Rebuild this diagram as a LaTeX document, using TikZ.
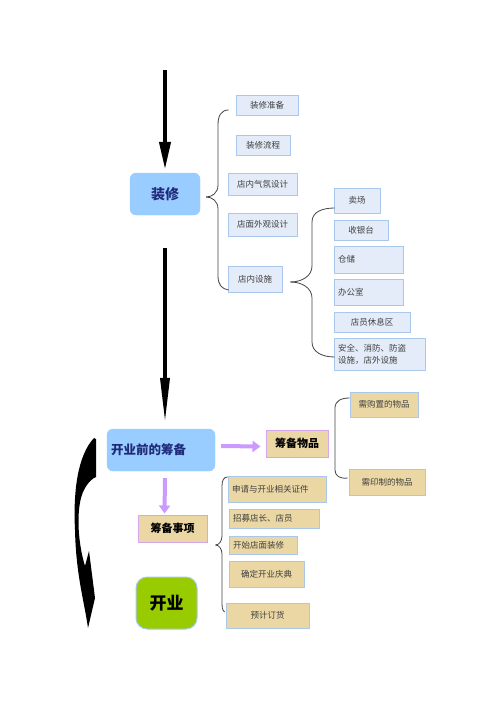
\documentclass[tikz,border=0pt]{standalone}
\usepackage{fontspec}
\setmainfont{Noto Sans CJK SC}
\usetikzlibrary{arrows.meta,calc}
\definecolor{titlefill}{HTML}{99CCFF}
\definecolor{titletext}{HTML}{1F2A7A}
\definecolor{boxfill}{HTML}{E3ECF8}
\definecolor{boxline}{HTML}{A9C8EC}
\definecolor{tanfill}{HTML}{EAD7A4}
\definecolor{lilac}{HTML}{D6A6EA}
\definecolor{purplearrow}{HTML}{CC99FF}
\definecolor{greenfill}{HTML}{99CC00}
\definecolor{bracecol}{HTML}{444444}
\tikzset{
  titlebox/.style={draw=titlefill, fill=titlefill, rounded corners=6pt, text=titletext,
    font=\fontsize{14}{16}\selectfont\bfseries, inner sep=0pt},
  bluebox/.style={draw=boxline, line width=0.8pt, fill=boxfill, text=black!75,
    font=\fontsize{8.5}{11}\selectfont, inner sep=0pt},
  tanbox/.style={draw=boxline, line width=0.8pt, fill=tanfill, text=black!75,
    font=\fontsize{8.5}{11}\selectfont, inner sep=0pt},
  lilacbox/.style={draw=lilac, line width=1pt, fill=tanfill, text=black,
    font=\fontsize{11}{13}\selectfont\bfseries, inner sep=0pt},
  bracepath/.style={draw=bracecol, line width=0.8pt},
  blackarrow/.style={line width=4pt, black},
  purparrow/.style={line width=4pt, purplearrow, -{Triangle[length=8pt,width=11pt]}}
}
\begin{document}
\begin{tikzpicture}[x=1pt,y=-1pt]
\useasboundingbox[fill=white] (0,0) rectangle (500,707);

% ---- title boxes
\node[titlebox, minimum width=70, minimum height=42] (zx) at (165,194) {装修};
\node[titlebox, minimum width=108, minimum height=42, font=\fontsize{12.5}{15}\selectfont\bfseries,
      text width=100, align=left] (kyq) at (161,450) {开业前的筹备};
\node[draw=boxline, line width=1pt, fill=greenfill, rounded corners=11pt, minimum width=61,
      minimum height=52, font=\fontsize{17}{19}\selectfont\bfseries, inner sep=0pt] (ky) at (166.5,603) {开业};

% ---- 装修 sub boxes
\node[bluebox, minimum width=62, minimum height=20] (b1) at (267,105) {装修准备};
\node[bluebox, minimum width=54, minimum height=20] (b2) at (263,145) {装修流程};
\node[bluebox, minimum width=69, minimum height=22] (b3) at (262.5,184) {店内气氛设计};
\node[bluebox, minimum width=69, minimum height=23] (b4) at (262.5,224.5) {店面外观设计};
\node[bluebox, minimum width=54, minimum height=26] (b5) at (255,279) {店内设施};

% ---- 店内设施 sub boxes
\node[bluebox, minimum width=46, minimum height=25] (c1) at (357,200.5) {卖场};
\node[bluebox, minimum width=54, minimum height=20] (c2) at (361,230) {收银台};
\node[bluebox, minimum height=27, text width=61, align=left, inner xsep=4pt] (c3) at (368.5,259.5) {仓储};
\node[bluebox, minimum height=26, text width=61, align=left, inner xsep=4pt] (c4) at (368.5,292) {办公室};
\node[bluebox, minimum width=76, minimum height=20] (c5) at (372,322) {店员休息区};
\node[bluebox, minimum height=32, text width=83, align=left, inner xsep=4pt,
      font=\fontsize{8.5}{12}\selectfont] (c6) at (379.5,354) {安全、消防、防盗\\设施，店外设施};

% ---- 筹备物品
\node[lilacbox, minimum width=62, minimum height=27] (wp) at (297,443.5) {筹备物品};
\node[tanbox, minimum width=68, minimum height=25] (w1) at (384,404.5) {需购置的物品};
\node[tanbox, minimum width=76, minimum height=26] (w2) at (387,482) {需印制的物品};

% ---- 筹备事项
\node[lilacbox, minimum width=69, minimum height=27] (sx) at (172.5,528.5) {筹备事项};
\node[tanbox, minimum height=26, text width=90, align=left, inner xsep=4pt] (s1) at (277,489) {申请与开业相关证件};
\node[tanbox, minimum height=19, text width=82, align=left, inner xsep=4pt] (s2) at (274,518.5) {招募店长、店员};
\node[tanbox, minimum height=18, text width=60, align=left, inner xsep=4pt] (s3) at (263,545) {开始店面装修};
\node[tanbox, minimum width=75, minimum height=26] (s4) at (266.5,574) {确定开业庆典};
\node[tanbox, minimum width=83, minimum height=25] (s5) at (267.5,615.5) {预计订货};

% ---- black arrows
\coordinate (a1s) at (165,70);
\draw[blackarrow, -{Triangle[length=28pt,width=11pt]}] (a1s) -- ($(zx.north)+(0,-3)$);
\coordinate (a2s) at (165,248);
\draw[line width=3.5pt, black, -{Triangle[length=45pt,width=9pt]}] (a2s) -- ($(kyq.north)+(4,-6)$);

% ---- purple arrows
\draw[purparrow] ($(kyq.east)+(6,-4)$) -- ($(wp.west)+(-5,3)$);
\draw[purparrow] ($(kyq.south)+(4,7)$) -- ($(sx.north)+(-8,-1)$);

% ---- braces
\draw[bracepath] ($(zx.east)+(6,3)$) .. controls (212,197) and (218,193) .. (218,185) -- (218,125)
   .. controls (218,116) and (221,110) .. ($(b1.west)+(-7,5)$);
\draw[bracepath] ($(zx.east)+(6,3)$) .. controls (212,197) and (218,201) .. (218,209) -- (218,276)
   .. controls (218,285) and (222,289) .. ($(b5.west)+(1,11)$);

\draw[bracepath] ($(b5.east)+(8,3)$) .. controls (302,282) and (312,276) .. (312,266) -- (312,222)
   .. controls (312,212) and (322,208) .. ($(c1.west)+(1,7.5)$);
\draw[bracepath] ($(b5.east)+(8,3)$) .. controls (302,282) and (312,288) .. (312,298) -- (312,342)
   .. controls (312,352) and (322,357) .. ($(c6.west)+(1,3)$);

\draw[bracepath] ($(w1.west)+(0,-6.5)$) .. controls (341,398) and (335,401) .. (335,408) -- (335,470)
   .. controls (335,476) and (340,479) .. ($(w2.west)+(-1,-4)$);

\draw[bracepath] ($(sx.east)+(8,16.5)$) .. controls (219,545) and (222,541) .. (222,536) -- (222,486)
   .. controls (222,480) and (224,477) .. ($(s1.west)+(0,-12)$);
\draw[bracepath] ($(sx.east)+(8,16.5)$) .. controls (219,545) and (222,549) .. (222,554) -- (222,604)
   .. controls (222,610) and (224,612) .. ($(s5.west)+(-1,-3.5)$);

% ---- big curved arrow on the left
\fill[black] (94,438) .. controls (78,455) and (73,490) .. (75,530)
   .. controls (76,575) and (84,600) .. (88,628)
   -- (95,598) -- (89,551) -- (85,566)
   .. controls (77,540) and (76,505) .. (84,490)
   .. controls (88,482) and (93,478) .. (96,477) -- (96,439) -- cycle;
\end{tikzpicture}
\end{document}
